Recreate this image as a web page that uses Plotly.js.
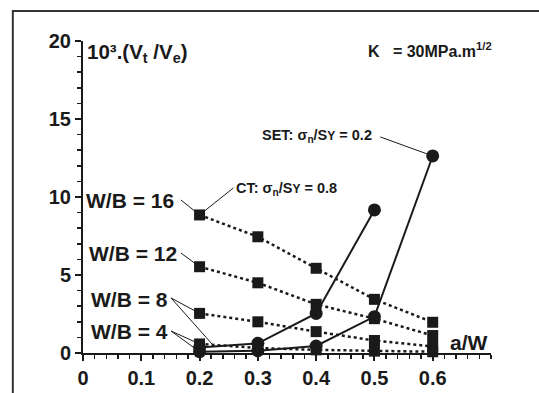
<!DOCTYPE html>
<html><head><meta charset="utf-8">
<script src="https://cdn.plot.ly/plotly-3.0.1.min.js"></script>
<style>html,body{margin:0;padding:0;background:#fff}#g{width:539px;height:393px}</style>
</head><body><div id="g"></div>
<script>
// a/W values
const aw = [0.2, 0.3, 0.4, 0.5, 0.6];
// CT (sigma_n/S_Y = 0.8), squares, dotted
const wb16 = [8.85, 7.45, 5.43, 3.44, 1.97];
const wb12 = [5.53, 4.50, 3.12, 2.20, 1.12];
const wb8  = [2.54, 2.00, 1.37, 0.80, 0.42];
const wb4  = [0.58, 0.32, 0.20, 0.12, 0.08];
// SET (sigma_n/S_Y = 0.2), circles, solid
const awSetA = [0.2, 0.3, 0.4, 0.5];
const setA = [0.35, 0.62, 2.54, 9.17];
const setB = [0.08, 0.15, 0.45, 2.33, 12.63];
const xTicks = [0, 0.1, 0.2, 0.3, 0.4, 0.5, 0.6];
const xTickText = ['0', '0.1', '0.2', '0.3', '0.4', '0.5', '0.6'];
const yTicks = [0, 5, 10, 15, 20];

const FONT = 'Liberation Sans, Arial, sans-serif';
const INK = '#1a1a1a';

function ct(y) {
  return {x: aw, y: y, type: 'scatter', mode: 'lines+markers', cliponaxis: false,
    line: {color: INK, width: 2.5, dash: 'dot'},
    marker: {symbol: 'square', size: 11, color: INK}, showlegend: false, hoverinfo: 'skip'};
}
function se(x, y) {
  return {x: x, y: y, type: 'scatter', mode: 'lines+markers', cliponaxis: false,
    line: {color: INK, width: 2},
    marker: {symbol: 'circle', size: 13, color: INK}, showlegend: false, hoverinfo: 'skip'};
}
const data = [ct(wb16), ct(wb12), ct(wb8), ct(wb4), se(awSetA, setA), se(aw, setB)];

function lead(x0, y0, x1, y1) {
  return {type: 'line', xref: 'x', yref: 'y', x0: x0, y0: y0, x1: x1, y1: y1,
    line: {color: INK, width: 1}, layer: 'below'};
}
const shapes = [
  {type: 'rect', xref: 'paper', yref: 'paper', x0: -0.172, y0: -1, x1: 3, y1: 1.096,
    line: {color: '#333', width: 2}, fillcolor: 'rgba(0,0,0,0)', layer: 'below'},
  lead(0.168, 9.81, aw[0], wb16[0]),
  lead(0.168, 6.41, aw[0], wb12[0]),
  lead(0.151, 3.53, aw[0], wb8[0]),
  lead(0.151, 3.53, 0.222, 0.55),
  lead(0.151, 1.41, aw[0], wb4[0]),
  lead(0.151, 1.41, aw[0], setB[0]),
  lead(0.258, 10.58, aw[0], wb16[0]),
  lead(0.510, 13.85, aw[4], setB[4])
];

function txt(text, x, y, size, anchor) {
  return {text: '<b>' + text + '</b>', xref: 'x', yref: 'y', x: x, y: y, showarrow: false,
    xanchor: anchor || 'left', yanchor: 'middle',
    font: {family: FONT, size: size, color: INK, weight: 'bold'}};
}
const annotations = [
  txt('10³.(V<sub>t</sub> /V<sub>e</sub>)', 0.003, 19.2, 20.5),
  txt('K&nbsp;&nbsp;&nbsp;= 30MPa.m<sup>1/2</sup>', 0.485, 19.45, 16),
  txt('SET: σ<sub>n</sub>/S<span style="font-size:12px">Y</span> = 0.2', 0.304, 13.9, 14.5),
  txt('CT: σ<sub>n</sub>/S<span style="font-size:12px">Y</span> = 0.8', 0.259, 10.5, 14.5),
  txt('W/B = 16', 0.002, 9.75, 21),
  txt('W/B = 12', 0.006, 6.35, 21),
  txt('W/B = 8', 0.010, 3.4, 21),
  txt('W/B = 4', 0.010, 1.35, 21),
  txt('a/W', 0.627, 0.65, 21)
];

const layout = {
  width: 539, height: 393,
  margin: {l: 83, r: 48, t: 41, b: 40, pad: 0},
  paper_bgcolor: '#fff', plot_bgcolor: '#fff',
  font: {family: FONT, color: INK},
  xaxis: {range: [0, 0.7], showgrid: false, zeroline: false, showline: true,
    linecolor: INK, linewidth: 2, ticks: 'outside', ticklen: 6, tickwidth: 2, tickcolor: INK,
    tickvals: xTicks, ticktext: xTickText,
    tickfont: {family: FONT, size: 20, color: INK, weight: 'bold'},
    minor: {dtick: 0.02, ticks: 'outside', ticklen: 4, tickwidth: 1.5, tickcolor: INK, showgrid: false}},
  yaxis: {range: [0, 20], showgrid: false, zeroline: false, showline: true,
    linecolor: INK, linewidth: 2, ticks: 'outside', ticklen: 6, tickwidth: 2, tickcolor: INK,
    tickvals: yTicks,
    tickfont: {family: FONT, size: 20, color: INK, weight: 'bold'},
    minor: {dtick: 1, ticks: 'outside', ticklen: 4, tickwidth: 1.5, tickcolor: INK, showgrid: false}},
  shapes: shapes,
  annotations: annotations,
  showlegend: false
};
Plotly.newPlot('g', data, layout, {staticPlot: true, displayModeBar: false});
</script></body></html>
